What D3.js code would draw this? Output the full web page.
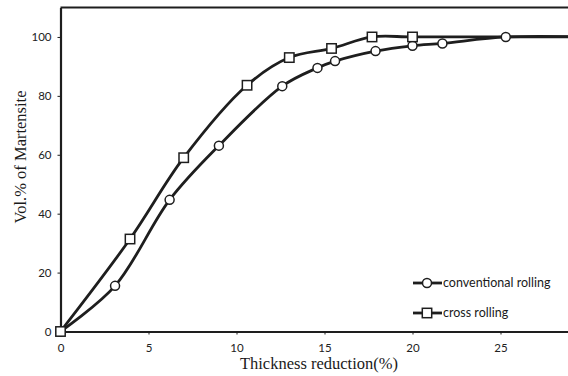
<!DOCTYPE html>
<html>
<head>
<meta charset="utf-8">
<script src="https://cdn.jsdelivr.net/npm/d3@7"></script>
<style>
  body { margin: 0; background: #fff; }
  svg { display: block; }
</style>
</head>
<body>
<div id="chart"></div>
<script>
// thickness reduction (%) and martensite vol.%
const convX = [0, 3.1, 6.2, 9.0, 12.6, 14.6, 15.6, 17.9, 20.0, 21.7, 25.3, 30];
const convY = [0, 15.5, 44.7, 63.1, 83.3, 89.5, 91.8, 95.2, 97.0, 97.8, 100, 100];
const crossX = [0, 3.95, 7.0, 10.6, 13.0, 15.4, 17.7, 20.0, 25.3, 30];
const crossY = [0, 31.4, 59.0, 83.6, 93.0, 96.1, 100, 100, 100, 100];
// last points sit at x=30, outside the visible area, like the source chart
const convMarks = [true, true, true, true, true, true, true, true, true, true, true, false];
const crossMarks = [true, true, true, true, true, true, true, true, false, false];

const xTicks = [0, 5, 10, 15, 20, 25];
const yTicks = [0, 20, 40, 60, 80, 100];
const legendLabels = ["conventional rolling", "cross rolling"];

const width = 568, height = 376;
const margin = { top: 7.5, left: 60.5, bottom: 44.5 };

const svg = d3.select("#chart")
  .append("svg")
  .attr("width", width)
  .attr("height", height);

const x = d3.scaleLinear()
  .domain([0, 30])
  .range([margin.left, margin.left + 17.6 * 30]);

const y = d3.scaleLinear()
  .domain([0, 110])
  .range([height - margin.bottom, margin.top]);

const ink = "#1e1e1e";

// frame: top line + left axis + bottom axis
svg.append("line")
  .attr("x1", x(0)).attr("x2", width)
  .attr("y1", y(110)).attr("y2", y(110))
  .attr("stroke", ink).attr("stroke-width", 2.2);

const xAxis = svg.append("g")
  .attr("transform", `translate(0,${y(0)})`)
  .call(d3.axisBottom(x).tickValues(xTicks).tickSize(3).tickSizeOuter(0));

const yAxis = svg.append("g")
  .attr("transform", `translate(${x(0)},0)`)
  .call(d3.axisLeft(y).tickValues(yTicks).tickSize(3).tickSizeOuter(0));

[xAxis, yAxis].forEach(a => {
  a.select(".domain").attr("stroke", ink).attr("stroke-width", 2.2);
  a.selectAll(".tick line").attr("stroke", ink);
  a.selectAll("text")
    .attr("fill", "#222")
    .style("font-family", "Lato, 'Liberation Sans', sans-serif")
    .style("font-size", "11.5px");
});
xAxis.selectAll("text").attr("dy", "1.25em");
yAxis.selectAll("text").attr("x", -9);

// axis titles
svg.append("text")
  .attr("x", 319)
  .attr("y", 369)
  .attr("text-anchor", "middle")
  .style("font-family", "'Liberation Serif', 'DejaVu Serif', serif")
  .style("font-size", "16.5px")
  .attr("fill", "#1a1a1a")
  .text("Thickness reduction(%)");

svg.append("text")
  .attr("transform", `translate(26,157) rotate(-90)`)
  .attr("text-anchor", "middle")
  .style("font-family", "'Liberation Serif', 'DejaVu Serif', serif")
  .style("font-size", "16.5px")
  .attr("fill", "#1a1a1a")
  .text("Vol.% of Martensite");

const plot = svg.append("g");

const line = d3.line()
  .x(d => x(d[0]))
  .y(d => y(d[1]))
  .curve(d3.curveCatmullRom.alpha(0.5));

const convData = convX.map((v, i) => [v, convY[i], convMarks[i]]);
const crossData = crossX.map((v, i) => [v, crossY[i], crossMarks[i]]);

[convData, crossData].forEach(data => {
  plot.append("path")
    .datum(data)
    .attr("d", line)
    .attr("fill", "none")
    .attr("stroke", ink)
    .attr("stroke-width", 2.8);
});

function circleMark(g, cx, cy) {
  g.append("circle")
    .attr("cx", cx).attr("cy", cy).attr("r", 4.5)
    .attr("fill", "#fff").attr("stroke", ink).attr("stroke-width", 1.5);
}
function squareMark(g, cx, cy) {
  g.append("rect")
    .attr("x", cx - 4.7).attr("y", cy - 4.7)
    .attr("width", 9.4).attr("height", 9.4)
    .attr("fill", "#fff").attr("stroke", ink).attr("stroke-width", 1.5);
}

convData.filter(d => d[2]).forEach(d => circleMark(plot, x(d[0]), y(d[1])));
crossData.filter(d => d[2]).forEach(d => squareMark(plot, x(d[0]), y(d[1])));

// legend
const legend = svg.append("g");
const legendRows = [283, 313];
legendLabels.forEach((label, i) => {
  const ly = legendRows[i];
  legend.append("line")
    .attr("x1", 413).attr("x2", 442)
    .attr("y1", ly).attr("y2", ly)
    .attr("stroke", ink).attr("stroke-width", 2.8);
  if (i === 0) circleMark(legend, 427, ly);
  else squareMark(legend, 427, ly);
  legend.append("text")
    .attr("x", 443)
    .attr("y", ly)
    .attr("dy", "0.35em")
    .style("font-family", "Lato, 'Liberation Sans', sans-serif")
    .style("font-size", "12.5px")
    .attr("fill", "#1a1a1a")
    .text(label);
});
</script>
</body>
</html>
